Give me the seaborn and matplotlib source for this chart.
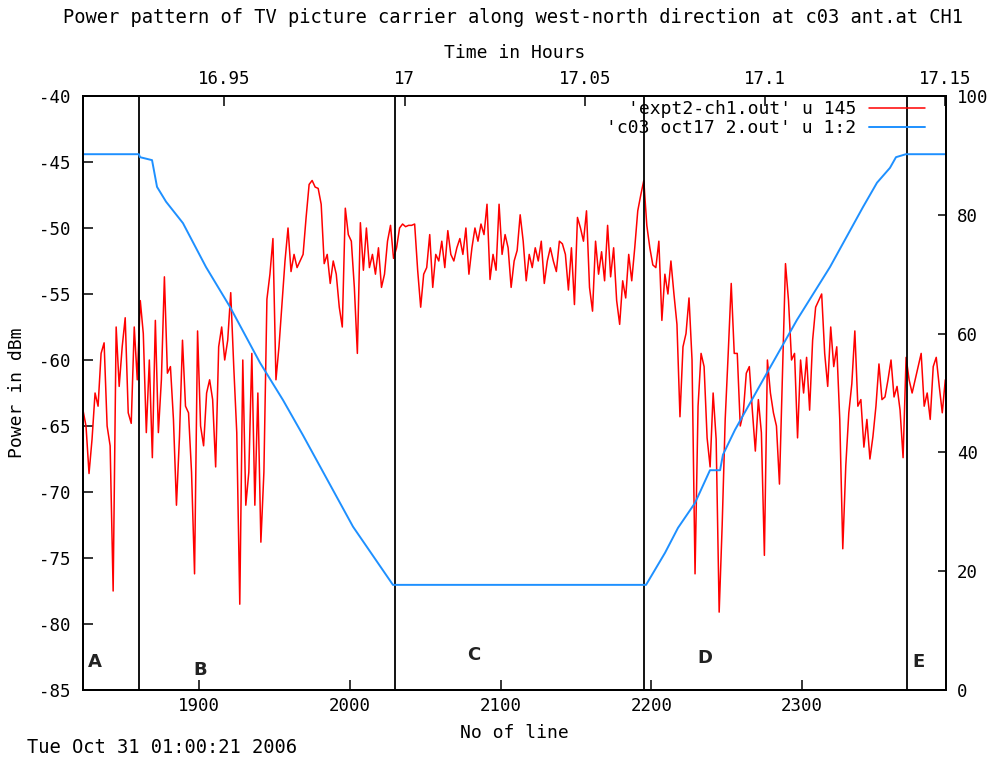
import numpy as np
import pandas as pd
import matplotlib
matplotlib.use("Agg")
import matplotlib.pyplot as plt
import seaborn as sns

# ---------------- data ----------------
title = "Power pattern of TV picture carrier along west-north direction at c03 ant.at CH1"
timestamp = "Tue Oct 31 01:00:21 2006"

red_label = "'expt2-ch1.out' u 145"
blue_label = "'c03 oct17 2.out' u 1:2"

# red series: power (dBm), one value every 2 lines starting at line 1823
red_line = np.arange(1823, 2396, 2)
red_power = [
    -63.8, -65.0, -68.6, -66.0, -62.5, -63.5, -59.5, -58.7, -65.0, -66.5,
    -77.5, -57.5, -62.0, -59.0, -56.8, -64.0, -64.8, -57.5, -61.5, -55.5,
    -58.0, -65.5, -60.0, -67.4, -57.0, -65.5, -61.5, -53.7, -61.0, -60.5,
    -64.5, -71.0, -65.8, -58.5, -63.5, -64.0, -68.5, -76.2, -57.8, -65.0,
    -66.5, -62.5, -61.5, -63.0, -68.1, -59.0, -57.5, -60.0, -58.5, -54.9,
    -60.5, -65.5, -78.5, -60.0, -71.0, -68.5, -59.5, -71.0, -62.5, -73.8,
    -68.5, -55.4, -53.5, -50.8, -61.5, -59.0, -55.8, -52.5, -50.0, -53.3,
    -52.0, -53.0, -52.5,
    -52.0, -49.2, -46.7, -46.4, -46.9, -47.0, -48.2, -52.7, -52.0, -54.2,
    -52.5, -53.5, -56.0, -57.5, -48.5, -50.5, -51.0, -54.5, -59.5, -49.6,
    -53.2, -50.0, -53.0, -52.0, -53.5, -51.5, -54.5, -53.5, -51.0, -49.8,
    -52.3, -51.5, -50.0, -49.7, -49.9, -49.8, -49.8, -49.7, -53.2, -56.0,
    -53.5, -53.0, -50.5, -54.5, -52.0, -52.5, -51.0, -53.0, -50.2, -52.0,
    -52.5, -51.5, -50.8, -52.0, -50.0, -53.5, -51.5, -50.0, -51.0, -49.7,
    -50.5, -48.2, -53.9, -52.0, -53.2, -48.2, -52.0, -50.5, -51.5, -54.5,
    -52.5, -51.7, -49.0,
    -51.0, -54.0, -52.0, -53.0, -51.5, -52.5, -51.0, -54.2, -52.5, -51.5,
    -52.5, -53.3, -51.0, -51.2, -52.0, -54.7, -51.5, -55.8, -49.2, -50.0,
    -51.0, -48.7, -54.5, -56.3, -51.0, -53.5, -51.8, -54.0, -49.8, -53.7,
    -51.5, -55.5, -57.3, -54.0, -55.3, -52.0, -54.0, -51.5, -48.7, -47.5,
    -46.4, -49.8, -51.5, -52.8, -53.0, -51.0, -57.0, -53.5, -55.0, -52.5,
    -55.0, -57.3, -64.3, -59.0, -58.0, -55.3, -60.0, -76.2, -63.5, -59.5,
    -60.5, -65.9, -68.1, -62.5, -66.0, -79.1, -72.5, -64.5, -59.5, -54.2,
    -59.5,
    -59.5, -65.0, -64.0, -61.0, -60.5, -63.8, -66.9, -63.0, -65.5, -74.8,
    -60.0, -62.5, -64.0, -65.0, -69.4, -61.0, -52.7, -55.5, -60.0, -59.5,
    -65.9, -60.0, -62.5, -59.8, -63.8, -58.5, -56.0, -55.5, -55.0, -59.5,
    -62.0, -57.5, -60.5, -59.0, -64.5, -74.3, -68.0, -64.0, -61.8, -57.8,
    -63.5, -63.0, -66.6, -64.5, -67.5, -65.8, -63.5, -60.3, -63.0, -62.8,
    -61.5, -60.0, -62.8, -62.0, -63.8, -67.4, -59.8, -61.5, -62.5, -61.5,
    -60.5, -59.5, -63.5, -62.5, -64.5, -60.5, -59.8, -62.0, -64.0, -61.5,
]

# blue series (right axis)
blue_line = [1823, 1860.1, 1860.8, 1868.8, 1872.1, 1878.1, 1889.3, 1904.6, 1920.5,
             1940.4, 1955.7, 1968.9, 2002.1, 2028.6, 2196.5, 2209.1, 2217.7, 2229.0,
             2238.9, 2245.6, 2247.5, 2255.5, 2274.1, 2296.6, 2318.5, 2340.4, 2349.7,
             2358.3, 2362.3, 2368.9, 2395.5]
blue_value = [90.2, 90.2, 89.7, 89.2, 84.7, 82.2, 78.6, 71.2, 64.5, 55.1, 48.8, 42.9,
              27.5, 17.7, 17.7, 23.1, 27.3, 31.5, 37.0, 37.0, 39.6, 43.8, 52.2, 62.3,
              71.2, 81.3, 85.4, 87.9, 89.7, 90.2, 90.2]

# region separators and labels
region_bounds = [1860, 2030, 2195.2, 2369.5]
region_names = ["A", "B", "C", "D", "E"]
region_x = [1831, 1900.6, 2082.4, 2235.6, 2376.9]
region_y = [-82.9, -83.5, -82.35, -82.6, -82.9]

x_ticks = [1900, 2000, 2100, 2200, 2300]
y_ticks = [-85, -80, -75, -70, -65, -60, -55, -50, -45, -40]
y2_ticks = [0, 20, 40, 60, 80, 100]
top_ticks = [16.95, 17.0, 17.05, 17.1, 17.15]
top_tick_labels = ["16.95", "17", "17.05", "17.1", "17.15"]

# ---------------- style ----------------
sns.set_theme(style="white")
plt.rcParams['font.family'] = ['DejaVu Sans Mono', 'DejaVu Sans']
plt.rcParams['axes.edgecolor'] = 'black'
plt.rcParams['axes.linewidth'] = 1.3
plt.rcParams['text.color'] = 'black'
plt.rcParams['axes.labelcolor'] = 'black'
FS = 13
TFS = 12.5

fig = plt.figure(figsize=(10.06, 7.6), dpi=100)
ax = fig.add_axes([0.0825, 0.0921, 0.8579, 0.7816])
ax2 = ax.twinx()
ax3 = ax.twiny()

red_df = pd.DataFrame({"line": red_line, "power": red_power})
blue_df = pd.DataFrame({"line": blue_line, "value": blue_value})

sns.lineplot(data=red_df, x="line", y="power", ax=ax, color="#ff0000",
             linewidth=1.1, legend=False, zorder=2)
red_handle = ax.lines[-1]
for b in region_bounds:
    ax.axvline(b, color="black", linewidth=1.3, zorder=3)

sns.lineplot(data=blue_df, x="line", y="value", ax=ax2, color="#1e90ff",
             linewidth=1.4, legend=False)
blue_handle = ax2.lines[-1]

for name, xx, yy in zip(region_names, region_x, region_y):
    ax.text(xx, yy, name, ha="center", va="center", fontsize=13,
            fontweight="bold", family="DejaVu Sans", color="#222222", zorder=4)

ax.set_xlim(1823, 2395.5)
ax.set_ylim(-85, -40)
ax2.set_ylim(0, 100)
ax3.set_xlim(16.9108, 17.1502)

ax.set_xticks(x_ticks)
ax.set_xticklabels([str(t) for t in x_ticks])
ax.set_yticks(y_ticks)
ax.set_yticklabels([str(t) for t in y_ticks])
ax2.set_yticks(y2_ticks)
ax2.set_yticklabels([str(t) for t in y2_ticks])
ax3.set_xticks(top_ticks)
ax3.set_xticklabels(top_tick_labels)

ax.tick_params(axis="y", left=True, right=False, direction="in", length=7, width=1.1,
               labelsize=TFS, pad=9, colors="black")
ax.tick_params(axis="x", bottom=True, top=False, direction="in", length=7, width=1.1,
               labelsize=TFS, pad=5, colors="black")
ax2.tick_params(axis="y", right=True, left=False, direction="in", length=6, width=1.1,
                labelsize=TFS, pad=8, colors="black")
ax3.tick_params(axis="x", top=True, bottom=False, direction="in", length=7, width=1.1,
                labelsize=TFS, pad=6, colors="black")

ax.set_xlabel("No of line", fontsize=FS, color="black")
ax.xaxis.set_label_coords(0.5, -0.0724)
ax.xaxis.label.set_va("center")
ax.set_ylabel("Power in dBm", fontsize=FS, color="black")
ax.yaxis.set_label_coords(-0.0765, 0.5)
ax.yaxis.label.set_va("center")
ax2.set_ylabel("")
ax3.set_xlabel("Time in Hours", fontsize=FS, color="black")
ax3.xaxis.set_label_coords(0.5, 1.0724)
ax3.xaxis.label.set_va("center")

for a in (ax, ax2, ax3):
    for s in a.spines.values():
        s.set_color("black")
        s.set_linewidth(1.3)

leg = ax3.legend([red_handle, blue_handle], [red_label, blue_label],
                 loc="upper right", bbox_to_anchor=(0.9757, 0.993),
                 bbox_transform=ax.transAxes, frameon=False, markerfirst=False,
                 handlelength=3.1, handletextpad=0.7, borderpad=0, borderaxespad=0,
                 labelspacing=0.05, fontsize=FS)
for t in leg.get_texts():
    t.set_color("black")

fig.text(0.51, 0.9776, title, ha="center", va="center", fontsize=13.5, color="black")
fig.text(0.0268, 0.0158, timestamp, ha="left", va="center", fontsize=13.5, color="black")

fig.savefig("out.png", dpi=100)
